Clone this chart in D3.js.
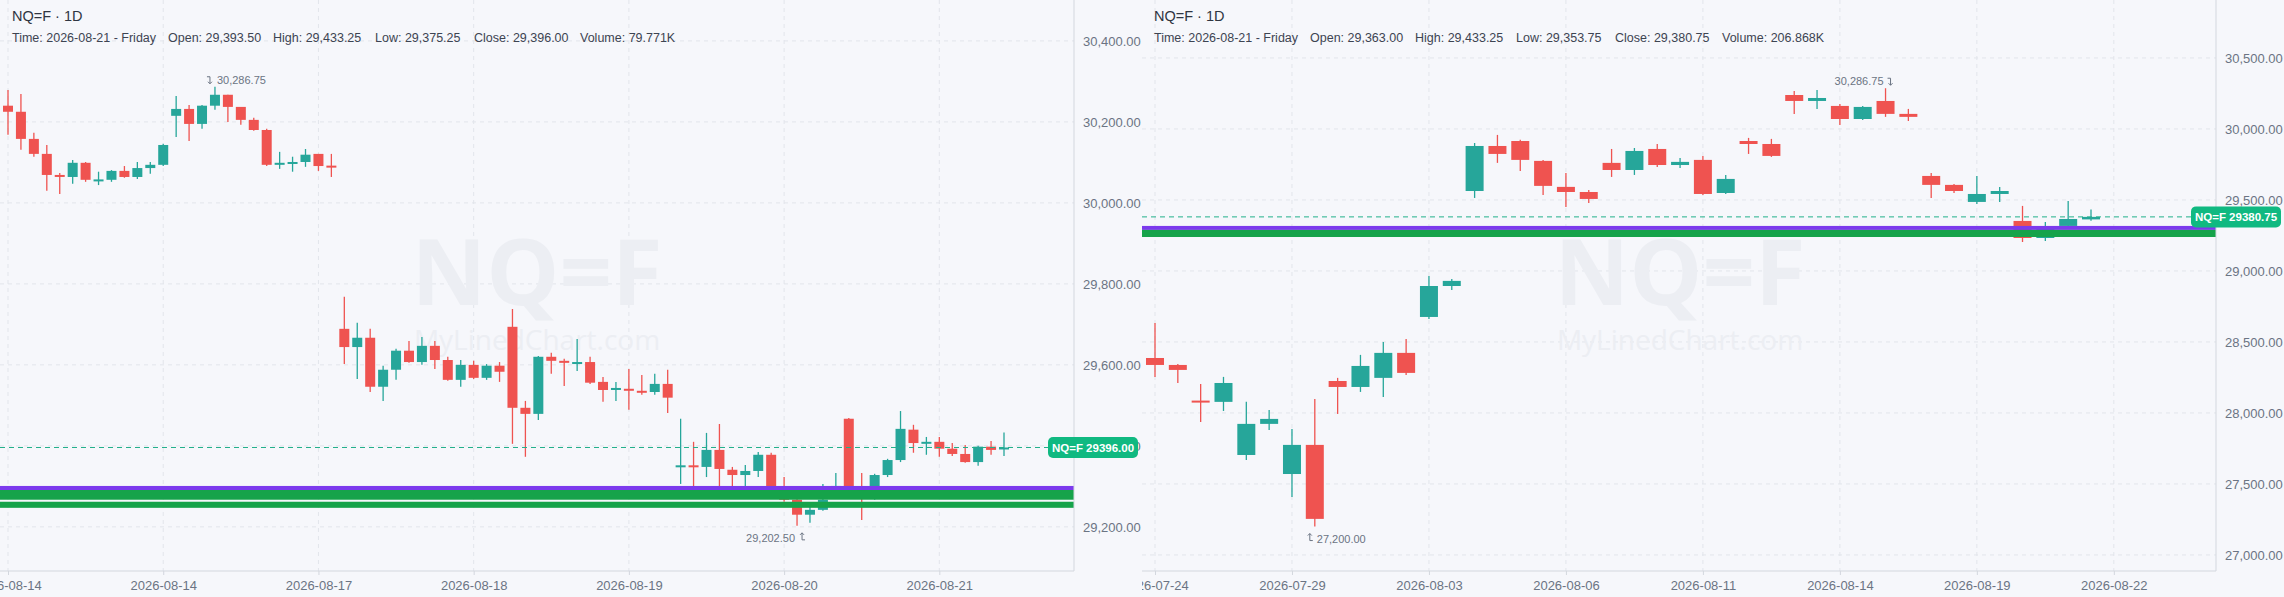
<!DOCTYPE html>
<html><head><meta charset="utf-8">
<script src="https://cdn.jsdelivr.net/npm/d3@7/dist/d3.min.js"></script>
<style>
html,body{margin:0;padding:0;background:#f6f7fb;}
svg{display:block;font-family:"Liberation Sans",Arial,sans-serif;}
</style></head><body>
<svg id="c" width="2284" height="597"></svg>
<script>
// ---------- DATA ----------
const leftCandles = [ // [open, high, low, close]
[30240,30279,30168,30225],[30225,30269,30131,30158],[30158,30173,30114,30121],[30121,30143,30030,30069],
[30069,30074,30022,30067],[30064,30106,30047,30099],[30099,30101,30052,30057],[30056,30077,30044,30058],
[30057,30081,30052,30079],[30079,30091,30062,30064],[30064,30101,30059,30086],[30086,30101,30072,30094],
[30094,30146,30091,30143],[30215,30264,30163,30232],[30232,30242,30153,30195],[30195,30242,30183,30240],
[30240,30286.75,30230,30267],[30267,30267,30200,30237],[30237,30237,30193,30205],[30205,30210,30178,30180],
[30180,30183,30091,30094],[30094,30126,30084,30099],[30099,30114,30077,30101],[30101,30133,30089,30119],
[30121,30121,30079,30091],[30092,30121,30064,30090],[29689,29768,29602,29644],[29644,29704,29565,29667],
[29667,29689,29533,29546],[29546,29598,29511,29588],[29588,29640,29563,29635],[29635,29659,29605,29607],
[29607,29669,29600,29647],[29647,29659,29590,29612],[29612,29620,29561,29563],[29563,29612,29546,29600],
[29600,29610,29565,29568],[29568,29602,29563,29598],[29598,29607,29558,29583],[29694,29738,29405,29494],
[29494,29511,29373,29479],[29479,29622,29464,29620],[29620,29630,29578,29610],[29610,29615,29548,29605],
[29605,29664,29585,29607],[29607,29620,29553,29556],[29558,29570,29509,29538],[29538,29558,29511,29543],
[29541,29590,29489,29536],[29536,29575,29526,29533],[29533,29578,29526,29553],[29553,29588,29481,29519],
[29350,29467,29306,29352],[29352,29410,29299,29350],[29348,29432,29323,29390],[29390,29454,29299,29343],
[29341,29348,29299,29328],[29328,29353,29299,29338],[29338,29385,29323,29378],[29378,29383,29290,29297],
[29291,29323,29262,29267],[29267,29270,29202.5,29230],[29230,29254,29210,29242],[29242,29306,29240,29267],
[29291,29333,29285,29301],[29467,29469,29270,29295],[29295,29333,29217,29283],[29290,29331,29267,29328],
[29328,29368,29323,29365],[29365,29486,29360,29442],[29440,29452,29383,29407],[29408,29422,29378,29410],
[29410,29422,29373,29393],[29393,29407,29375,29380],[29380,29402,29358,29360],[29360,29400,29351,29398],
[29398,29412,29378,29390],[29393.5,29433.25,29375.25,29396]
];
const rightCandles = [
[28387,28634,28254,28338],[28338,28345,28211,28303],[28087,28204,27937,28083],[28078,28254,28014,28211],
[27704,28078,27669,27923],[27923,28021,27880,27958],[27570,27887,27408,27775],[27775,28099,27200,27254],
[28225,28247,27993,28183],[28183,28409,28148,28331],[28247,28500,28113,28423],[28423,28521,28268,28282],
[28676,28965,28662,28894],[28894,28944,28866,28930],[29563,29901,29514,29880],[29880,29958,29761,29824],
[29915,29923,29704,29782],[29775,29782,29535,29599],[29592,29690,29451,29556],[29556,29570,29479,29507],
[29761,29859,29662,29711],[29711,29866,29676,29845],[29859,29894,29732,29746],[29746,29796,29725,29768],
[29782,29810,29535,29542],[29549,29676,29542,29648],[29915,29937,29824,29894],[29894,29930,29803,29810],
[30239,30268,30106,30197],[30197,30275,30141,30218],[30162,30176,30028,30070],[30070,30162,30063,30155],
[30197,30286.75,30085,30106],[30106,30141,30056,30085],[29669,29690,29514,29606],[29606,29613,29549,29563],
[29486,29669,29472,29542],[29542,29592,29486,29563],[29352,29458,29204,29232],[29232,29345,29211,29310],
[29317,29493,29310,29366],[29363,29433.25,29353.75,29380.75]
];
const leftTickIdx = [0,12,24,36,48,60,72];
const leftTickLabels = ["2026-08-14","2026-08-14","2026-08-17","2026-08-18","2026-08-19","2026-08-20","2026-08-21"];
const rightTickIdx = [0,6,12,18,24,30,36,42];
const rightTickLabels = ["2026-07-24","2026-07-29","2026-08-03","2026-08-06","2026-08-11","2026-08-14","2026-08-19","2026-08-22"];
const leftYTicks = [30400,30200,30000,29800,29600,29400,29200];
const rightYTicks = [30500,30000,29500,29000,28500,28000,27500,27000];
const leftBands = [[29301,29291,"#7c3aed"],[29291,29267,"#16a34a"],[29262,29247,"#16a34a"]];
const rightBands = [[29317,29289,"#7c3aed"],[29289,29239,"#16a34a"]];
const leftInfo = ["Time: 2026-08-21 - Friday","Open: 29,393.50","High: 29,433.25","Low: 29,375.25","Close: 29,396.00","Volume: 79.771K"];
const rightInfo = ["Time: 2026-08-21 - Friday","Open: 29,363.00","High: 29,433.25","Low: 29,353.75","Close: 29,380.75","Volume: 206.868K"];
const leftLast = 29396.00, rightLast = 29380.75;
const leftHi = {i:16,v:30286.75}, leftLo = {i:61,v:29202.50};
const rightHi = {i:32,v:30286.75}, rightLo = {i:7,v:27200.00};

// ---------- DRAW ----------
const svg = d3.select("#c");
const UP="#26a69a", DN="#ef5350", GRID="#e2e5eb", TXT="#6b7483";
const fmt = d3.format(",.2f");

function panel(o){
  const g = svg.append("g");
  const clipId = "clip"+o.id;
  svg.append("clipPath").attr("id",clipId).append("rect")
    .attr("x",o.x0).attr("y",0).attr("width",o.x1-o.x0).attr("height",597);
  const x = d3.scaleLinear().domain([0,o.n-1]).range(o.xr);
  const y = d3.scaleLinear().domain(o.yd).range([571,0]);
  const pg = g.append("g").attr("clip-path",`url(#${clipId})`);
  pg.selectAll(".hg").data(o.yTicks).join("line")
    .attr("x1",o.x0).attr("x2",o.x1).attr("y1",d=>y(d)).attr("y2",d=>y(d))
    .attr("stroke",GRID).attr("stroke-dasharray","4,4");
  pg.selectAll(".vg").data(o.tickIdx).join("line")
    .attr("x1",d=>x(d)).attr("x2",d=>x(d)).attr("y1",0).attr("y2",571)
    .attr("stroke",GRID).attr("stroke-dasharray","4,4");
  pg.append("text").attr("x",o.wm).attr("y",305).attr("text-anchor","middle")
    .attr("font-size",92).attr("font-weight",700).attr("fill","#eceef3")
    .attr("font-family","'Open Sans',sans-serif").text("NQ=F");
  pg.append("text").attr("x",o.wm).attr("y",350).attr("text-anchor","middle")
    .attr("font-size",28).attr("fill","#eceef3")
    .attr("font-family","'Open Sans',sans-serif").text("MyLinedChart.com");
  const cg = pg.selectAll(".cd").data(o.data).join("g");
  cg.append("line").attr("x1",(d,i)=>x(i)).attr("x2",(d,i)=>x(i))
    .attr("y1",d=>y(d[1])).attr("y2",d=>y(d[2]))
    .attr("stroke",d=>d[3]>=d[0]?UP:DN).attr("stroke-width",1.3);
  cg.append("rect").attr("x",(d,i)=>x(i)-o.bw/2).attr("width",o.bw)
    .attr("y",d=>y(Math.max(d[0],d[3])))
    .attr("height",d=>Math.max(2,Math.abs(y(d[0])-y(d[3]))))
    .attr("fill",d=>d[3]>=d[0]?UP:DN);
  pg.selectAll(".bd").data(o.bands).join("rect")
    .attr("x",o.x0).attr("width",o.x1-o.x0)
    .attr("y",d=>y(d[0])).attr("height",d=>y(d[1])-y(d[0])).attr("fill",d=>d[2]);
  pg.append("line").attr("x1",o.x0).attr("x2",o.x1).attr("y1",y(o.last)).attr("y2",y(o.last))
    .attr("stroke","#22b08a").attr("stroke-dasharray","5,4").attr("stroke-width",1);
  function mark(m, above, textLeft){
    const cx=x(m.i), cy=y(m.v);
    const ty = above? cy-7 : cy+12;
    const ax = textLeft? cx+5 : cx-5;
    pg.append("path").attr("d", above
        ? `M${ax-3},${ty-3}H${ax}V${ty+4}M${ax-2},${ty+2}L${ax},${ty+4}L${ax+2},${ty+2}`
        : `M${ax+3},${ty+2}H${ax}V${ty-5}M${ax-2},${ty-3}L${ax},${ty-5}L${ax+2},${ty-3}`)
      .attr("fill","none").attr("stroke",TXT).attr("stroke-width",1);
    pg.append("text").attr("x", textLeft? ax-7 : ax+7).attr("y",ty+4)
      .attr("text-anchor", textLeft?"end":"start").attr("font-size",11).attr("fill",TXT).text(fmt(m.v));
  }
  mark(o.hi,true,o.hiLeft); mark(o.lo,false,o.loLeft);
  const xa = d3.axisBottom(x).tickValues(o.tickIdx).tickFormat((d,i)=>o.tickLabels[i]).tickSize(4).tickPadding(6);
  const xg = pg.append("g").attr("transform","translate(0,571)").call(xa);
  xg.select(".domain").remove();
  xg.append("line").attr("x1",o.x0).attr("x2",o.x1).attr("stroke","#d3d7de");
  xg.selectAll("line").attr("stroke","#d3d7de");
  xg.selectAll("text").attr("fill",TXT).attr("font-size",13).attr("font-family","'Liberation Sans',Arial,sans-serif");
  const ya = d3.axisRight(y).tickValues(o.yTicks).tickFormat(fmt).tickSize(0).tickPadding(9);
  const yg = g.append("g").attr("transform",`translate(${o.x1},0)`).call(ya);
  yg.select(".domain").remove();
  yg.append("line").attr("y1",0).attr("y2",571).attr("stroke","#d3d7de");
  yg.selectAll("text").attr("fill",TXT).attr("font-size",13).attr("font-family","'Liberation Sans',Arial,sans-serif");
  g.append("text").attr("x",o.x0+o.hx).attr("y",21).attr("font-size",14.5).attr("fill","#2f3542").text("NQ=F · 1D");
  g.selectAll(".inf").data(o.info).join("text").attr("x",(d,i)=>o.x0+o.hx+o.infoX[i]).attr("y",42)
    .attr("font-size",12.5).attr("fill","#3d4452").text(d=>d);
  return {y};
}

const L = panel({id:"L",x0:0,x1:1074,xr:[8,1004],n:leftCandles.length,yd:[29091,30501],
  data:leftCandles,bw:10,yTicks:leftYTicks,tickIdx:leftTickIdx,tickLabels:leftTickLabels,
  bands:leftBands,last:leftLast,hi:leftHi,lo:leftLo,hiLeft:false,loLeft:true,wm:537,
  info:leftInfo,hx:12,infoX:[0,156,261,363,462,568]});
const R = panel({id:"R",x0:1142,x1:2216,xr:[1155,2091],n:rightCandles.length,yd:[26887,30908],
  data:rightCandles,bw:18,yTicks:rightYTicks,tickIdx:rightTickIdx,tickLabels:rightTickLabels,
  bands:rightBands,last:rightLast,hi:rightHi,lo:rightLo,hiLeft:true,loLeft:false,wm:1680,
  info:rightInfo,hx:12,infoX:[0,156,261,362,461,568]});

function tag(xr, yv, txt){
  const w=90,h=21;
  svg.append("rect").attr("x",xr-w).attr("y",yv-h/2).attr("width",w).attr("height",h)
    .attr("rx",5).attr("fill","#10b981");
  svg.append("text").attr("x",xr-w/2).attr("y",yv+4.2).attr("text-anchor","middle")
    .attr("font-size",11.5).attr("font-weight",700).attr("fill","#fff").text(txt);
}
tag(1138, L.y(leftLast), "NQ=F "+leftLast.toFixed(2));
tag(2281, R.y(rightLast), "NQ=F "+rightLast.toFixed(2));
</script></body></html>
